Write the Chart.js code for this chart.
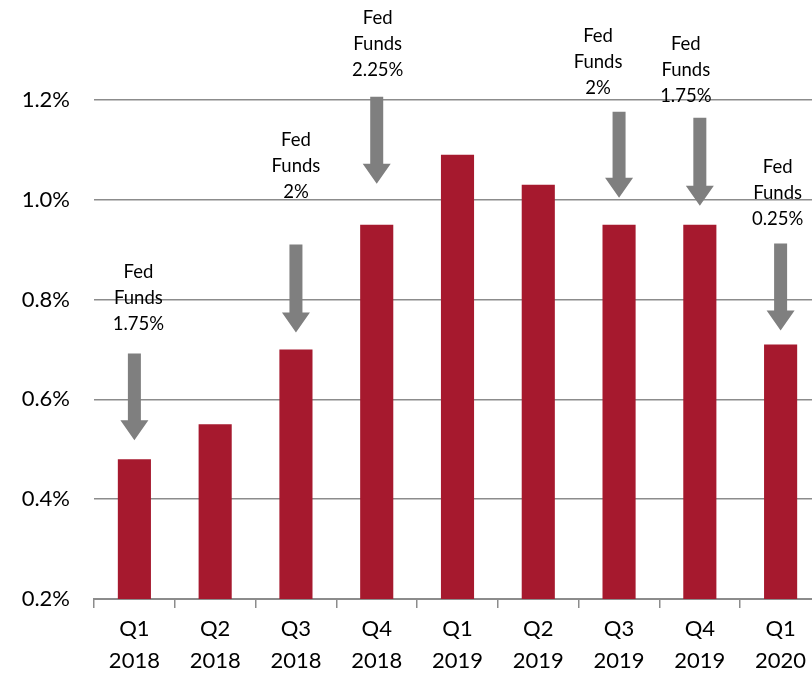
<!DOCTYPE html>
<html>
<head>
<meta charset="utf-8">
<script src="https://cdn.jsdelivr.net/npm/chart.js@4/dist/chart.umd.min.js"></script>
<style>
  html, body { margin: 0; padding: 0; background: #fff; overflow: hidden; }
  #wrap { width: 812px; height: 674px; overflow: hidden; }
</style>
</head>
<body>
<div id="wrap"><canvas id="spreadChart" width="822" height="674"></canvas></div>
<script>
// chart data
const quarters = [
  ['Q1', '2018'], ['Q2', '2018'], ['Q3', '2018'], ['Q4', '2018'],
  ['Q1', '2019'], ['Q2', '2019'], ['Q3', '2019'], ['Q4', '2019'],
  ['Q1', '2020']
];
const values = [0.48, 0.55, 0.70, 0.95, 1.09, 1.03, 0.95, 0.95, 0.71];
const yTicks = [0.2, 0.4, 0.6, 0.8, 1.0, 1.2];

// fed funds notes: which bar, the rate, arrow top/bottom and text top (in % units)
const noteIndex = [0, 2, 3, 6, 7, 8];
const noteRate = ['1.75%', '2%', '2.25%', '2%', '1.75%', '0.25%'];
const arrowFrom = [0.692, 0.910, 1.206, 1.176, 1.164, 0.912];
const arrowTo = [0.518, 0.734, 1.032, 1.004, 0.988, 0.738];
const textTop = [0.856, 1.120, 1.364, 1.328, 1.312, 1.066];
const textShift = [4, 0, 1, -21, -14, -3];

const barColor = '#A6192E';
const gridColor = '#8C8C8C';
const arrowColor = '#7F7F7F';
const fontFamily = 'Lato, "Open Sans", sans-serif';

// draws the grey arrows and the "Fed Funds" notes
const fedNotes = {
  id: 'fedNotes',
  afterDatasetsDraw(chart) {
    const c = chart.ctx;
    const xs = chart.scales.x;
    const ys = chart.scales.y;

    noteIndex.forEach((idx, i) => {
      const x = xs.getPixelForValue(idx);
      const top = ys.getPixelForValue(arrowFrom[i]);
      const bottom = ys.getPixelForValue(arrowTo[i]);
      const headH = 20;
      const shaftW = 13;
      const headW = 28;

      c.save();
      c.fillStyle = arrowColor;
      c.beginPath();
      c.moveTo(x - shaftW / 2, top);
      c.lineTo(x + shaftW / 2, top);
      c.lineTo(x + shaftW / 2, bottom - headH);
      c.lineTo(x + headW / 2, bottom - headH);
      c.lineTo(x, bottom);
      c.lineTo(x - headW / 2, bottom - headH);
      c.lineTo(x - shaftW / 2, bottom - headH);
      c.closePath();
      c.fill();

      c.fillStyle = '#000';
      c.font = '18.5px ' + fontFamily;
      c.textAlign = 'center';
      c.textBaseline = 'middle';
      const ty = ys.getPixelForValue(textTop[i]);
      const tx = x + textShift[i];
      ['Fed', 'Funds', noteRate[i]].forEach((line, k) => {
        c.fillText(line, tx, ty + k * 26);
      });
      c.restore();
    });
  }
};

const ctx = document.getElementById('spreadChart');

new Chart(ctx, {
  type: 'bar',
  data: {
    labels: quarters,
    datasets: [{
      data: values,
      backgroundColor: barColor,
      borderWidth: 0,
      categoryPercentage: 1,
      barPercentage: 0.41
    }]
  },
  options: {
    responsive: false,
    animation: false,
    layout: { padding: { top: 0, right: 1, left: 0, bottom: 0 } },
    plugins: {
      legend: { display: false },
      tooltip: { enabled: false }
    },
    scales: {
      x: {
        offset: true,
        grid: {
          offset: true,
          drawOnChartArea: false,
          drawTicks: true,
          tickLength: 9,
          color: gridColor,
          lineWidth: 1.5
        },
        border: { display: true, color: gridColor, width: 2 },
        ticks: {
          color: '#000',
          padding: 5,
          maxRotation: 0,
          autoSkip: false,
          font: { family: fontFamily, size: 22, lineHeight: 1.45 }
        },
        afterFit(scale) {
          scale.height = 75;
          scale.paddingLeft = 0;
          scale.paddingRight = 0;
        }
      },
      y: {
        min: 0.2,
        max: 1.4,
        grid: {
          color: gridColor,
          lineWidth: 1.5,
          drawTicks: false
        },
        border: { display: false },
        ticks: {
          stepSize: 0.2,
          padding: 24,
          color: '#000',
          font: { family: fontFamily, size: 22 },
          callback: v => v.toFixed(1) + '%'
        },
        afterBuildTicks(scale) {
          scale.ticks = yTicks.map(v => ({ value: v }));
        },
        afterFit(scale) {
          scale.width = 94;
          scale.paddingTop = 0;
          scale.paddingBottom = 0;
        }
      }
    }
  },
  plugins: [fedNotes]
});
</script>
</body>
</html>
